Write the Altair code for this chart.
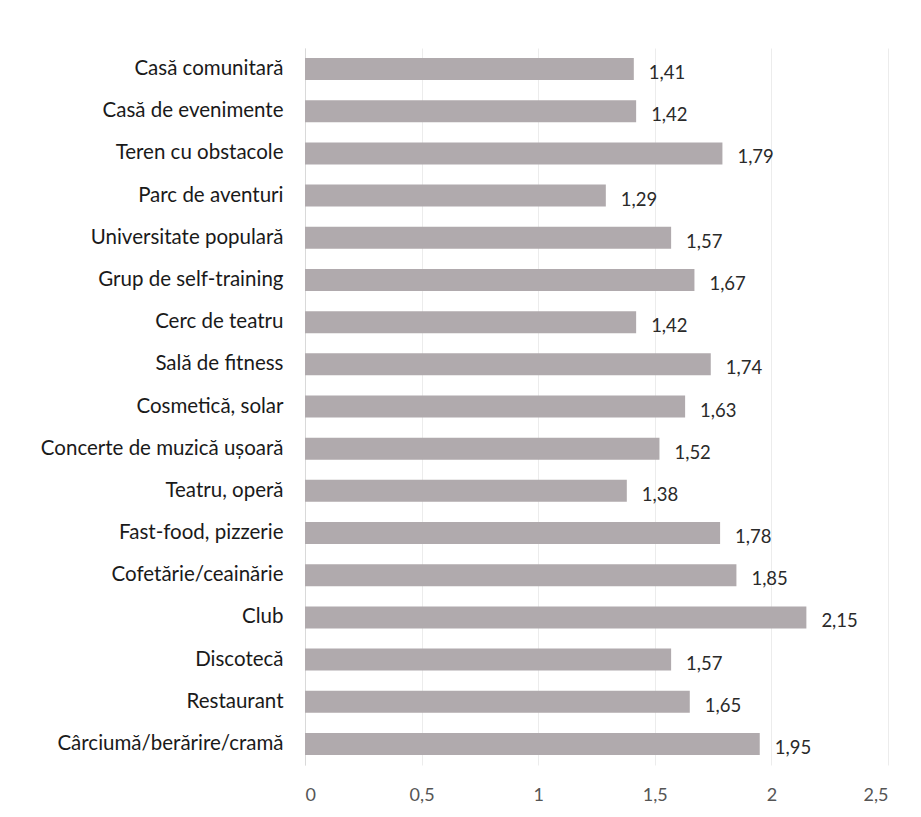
import altair as alt
import pandas as pd

categories = [
    "Casă comunitară", "Casă de evenimente", "Teren cu obstacole", "Parc de aventuri",
    "Universitate populară", "Grup de self-training", "Cerc de teatru", "Sală de fitness",
    "Cosmetică, solar", "Concerte de muzică ușoară", "Teatru, operă", "Fast-food, pizzerie",
    "Cofetărie/ceainărie", "Club", "Discotecă", "Restaurant", "Cârciumă/berărire/cramă",
]
values = [1.41, 1.42, 1.79, 1.29, 1.57, 1.67, 1.42, 1.74, 1.63, 1.52, 1.38, 1.78,
          1.85, 2.15, 1.57, 1.65, 1.95]
labels = [f"{v:.2f}".replace(".", ",") for v in values]

df = pd.DataFrame({"cat": categories, "val": values, "lab": labels})

FONT = "Lato"

y = alt.Y("cat:N", sort=categories, title=None,
          axis=alt.Axis(labelFont=FONT, labelFontSize=20.5, labelColor="#1a1a1a",
                        ticks=False, domain=True, domainColor="#d9d9d9",
                        labelPadding=22, labelLimit=400))
x = alt.X("val:Q", title=None,
          scale=alt.Scale(domain=[0, 2.5], nice=False),
          axis=alt.Axis(values=[0, 0.5, 1, 1.5, 2, 2.5],
                        labelExpr="replace(format(datum.value, '~g'), '.', ',')",
                        labelFont=FONT, labelFontSize=18, labelColor="#555555",
                        labelPadding=21, ticks=False, domain=False,
                        grid=True, gridColor="#ececec"))

bars = alt.Chart(df).mark_bar(size=22, color="#b0aaad").encode(x=x, y=y)
text = alt.Chart(df).mark_text(align="left", dx=15, dy=4, font=FONT, fontSize=18.5,
                               color="#2a2a2a").encode(x="val:Q", y=alt.Y("cat:N", sort=categories), text="lab:N")

chart = (bars + text).properties(
    width=583, height=717,
    padding={"left": 32, "top": 40, "right": 10, "bottom": 0},
).configure_view(stroke=None)

chart.save("out.html", embed_options={"renderer": "svg", "actions": False})
